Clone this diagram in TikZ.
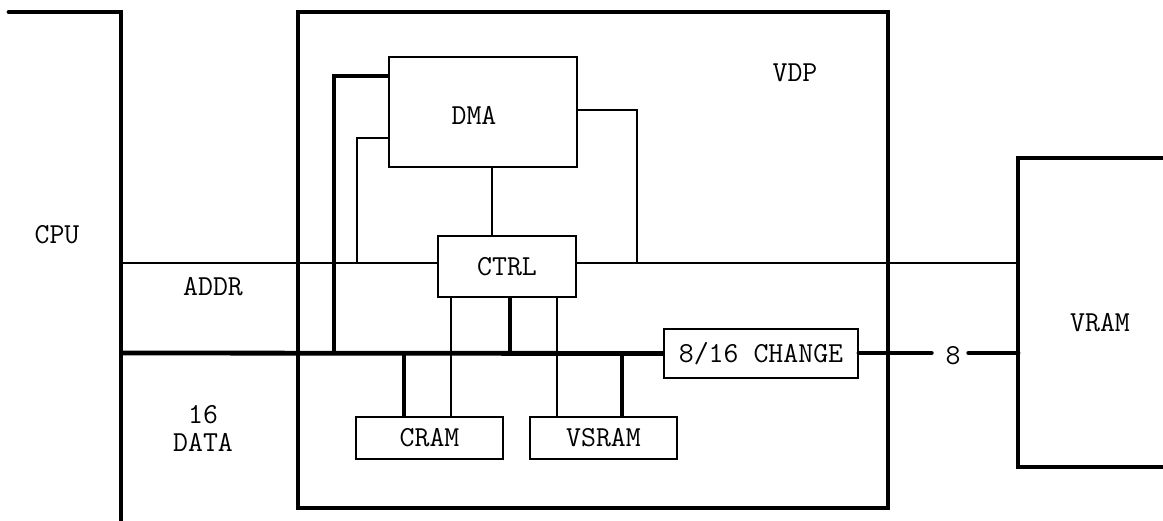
\documentclass[tikz,border=0pt]{standalone}
\begin{document}
\begin{tikzpicture}[x=1pt,y=-1pt,
  thinw/.style={line width=2pt},
  thickw/.style={line width=4.8pt},
  blk/.style={draw,line width=2pt,inner sep=0pt,rectangle,font=\ttfamily\fontsize{29}{33}\selectfont},
  lbl/.style={inner sep=0pt,font=\ttfamily\fontsize{29}{28}\selectfont}]
\useasboundingbox (0,0) rectangle (1163,521);
% CPU
\coordinate (cpuL) at (9,12);
\coordinate (cpuT) at (121,12);
\coordinate (cpuB) at (121,530);
\draw[thickw,line cap=round] (cpuL) -- (cpuT) -- (cpuB);
\node[lbl] (cpu) at (57,235) {CPU};
\node[lbl] (addr) at (213,287) {ADDR};
\node[lbl,align=center] (data) at (203,428) {16\\DATA};
% VDP
\node[draw,thickw,inner sep=0pt,minimum width=590,minimum height=496] (vdp) at (593,260) {};
\node[lbl] (vdpl) at (795,73) {VDP};
% VRAM
\coordinate (vr1) at (1170,158);
\coordinate (vr2) at (1018,158);
\coordinate (vr3) at (1018,467);
\coordinate (vr4) at (1170,467);
\draw[thickw] (vr1) -- (vr2) -- (vr3) -- (vr4);
\node[lbl] (vram) at (1100,323) {VRAM};
% blocks
\node[blk,minimum width=188,minimum height=110] (dma) at (483,112) {};
\node[lbl] (dmal) at (474,115) {DMA};
\node[blk,minimum width=138,minimum height=61] (ctrl) at (507,266.5) {CTRL};
\node[blk,minimum width=147,minimum height=42] (cram) at (429.5,438) {CRAM};
\node[blk,minimum width=147,minimum height=42] (vsram) at (603.5,438) {VSRAM};
\node[blk,minimum width=194,minimum height=49] (chg) at (761,353.5) {8/16 CHANGE};
\node[lbl] (n8) at (953,356) {8};
% address bus
\coordinate (a0) at (121,263);
\coordinate (a1) at (1018,263);
\draw[thinw] (a0) -- (a0 -| ctrl.west);
\draw[thinw] (ctrl.east |- a0) -- (a1);
% data bus
\coordinate (d0) at (121,353);
\coordinate (d1) at (1018,353);
\draw[thickw] (d0) -- (chg.west);
\draw[thickw,line cap=round] (chg.east |- d1) -- ([xshift=-14pt]n8.west |- d1);
\draw[thickw,line cap=round] ([xshift=8pt]n8.east |- d1) -- (d1);
% DMA connections
\coordinate (b0) at (334,353);
\coordinate (b1) at (334,76);
\draw[thickw] (b0) -- (b1) -- (b1 -| dma.west);
\coordinate (c0) at (357,263);
\coordinate (c1) at (357,138);
\draw[thinw] (c0) -- (c1) -- (c1 -| dma.west);
\coordinate (e0) at (637,110);
\coordinate (e1) at (637,263);
\draw[thinw] (e0 -| dma.east) -- (e0) -- (e1);
\coordinate (f0) at (492,0);
\draw[thinw] (f0 |- dma.south) -- (f0 |- ctrl.north);
% CTRL down
\coordinate (g0) at (451,0);
\draw[thinw] (g0 |- ctrl.south) -- (g0 |- cram.north);
\coordinate (h0) at (510,353);
\draw[thickw] (h0 |- ctrl.south) -- (h0);
\coordinate (i0) at (557,0);
\draw[thinw] (i0 |- ctrl.south) -- (i0 |- vsram.north);
\coordinate (j0) at (404,353);
\draw[thickw] (j0) -- (j0 |- cram.north);
\coordinate (k0) at (622,353);
\draw[thickw] (k0) -- (k0 |- vsram.north);
\end{tikzpicture}
\end{document}
